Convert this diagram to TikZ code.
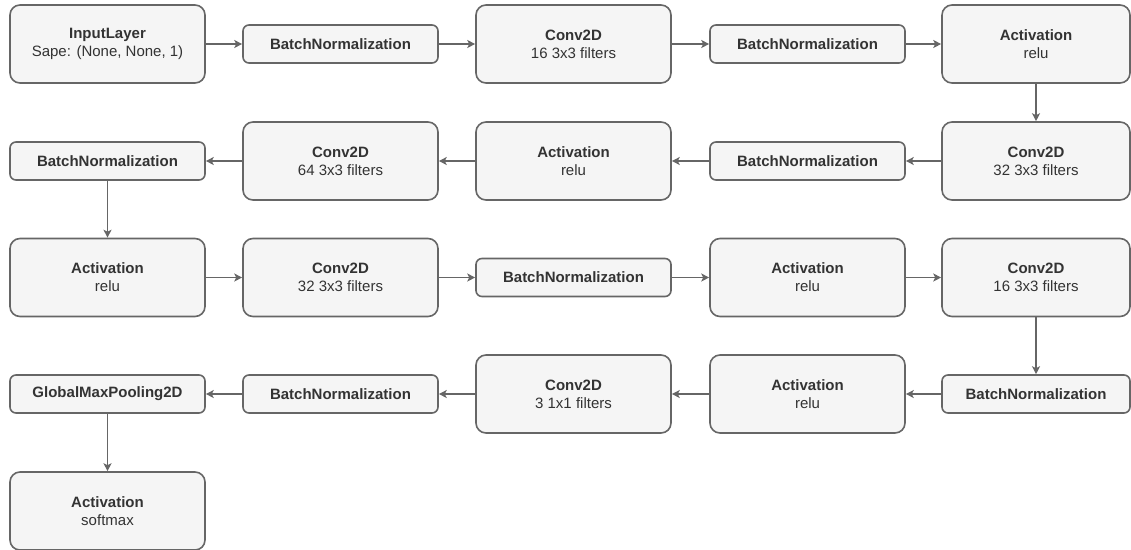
\documentclass[tikz,border=0pt]{standalone}
\usepackage{fontspec}
\setmainfont{Liberation Sans}
\usetikzlibrary{arrows.meta}
\definecolor{boxfill}{HTML}{F5F5F5}
\definecolor{boxline}{HTML}{666666}
\definecolor{txt}{HTML}{333333}
\begin{document}
\begin{tikzpicture}[x=1pt,y=-1pt,
  layer/.style={draw=boxline, fill=boxfill, line width=1.6pt, rounded corners=10pt,
    minimum width=195pt, minimum height=78pt, inner sep=0pt, align=center,
    text=txt, font=\fontsize{15}{18}\selectfont},
  flat/.style={layer, minimum height=38pt, rounded corners=6pt},
  narrow/.style={minimum width=188pt},
  flow/.style={draw=boxline, line width=1.3pt, -{Stealth[length=8pt,width=8pt,inset=2pt]}}]
\useasboundingbox (0,0) rectangle (1131,549);

% row 1
\node[layer] (a1) at (107.5,44) {\textbf{InputLayer}\\Sape: (None, None, 1)};
\node[flat]  (a2) at (340.5,44) {\textbf{BatchNormalization}};
\node[layer] (a3) at (573.5,44) {\textbf{Conv2D}\\16 3x3 filters};
\node[flat]  (a4) at (807.5,44) {\textbf{BatchNormalization}};
\node[layer,narrow] (a5) at (1036,44) {\textbf{Activation}\\relu};

% row 2
\node[layer,narrow] (b5) at (1036,161) {\textbf{Conv2D}\\32 3x3 filters};
\node[flat]  (b4) at (807.5,161) {\textbf{BatchNormalization}};
\node[layer] (b3) at (573.5,161) {\textbf{Activation}\\relu};
\node[layer] (b2) at (340.5,161) {\textbf{Conv2D}\\64 3x3 filters};
\node[flat]  (b1) at (107.5,161) {\textbf{BatchNormalization}};

% row 3
\node[layer] (c1) at (107.5,277.5) {\textbf{Activation}\\relu};
\node[layer] (c2) at (340.5,277.5) {\textbf{Conv2D}\\32 3x3 filters};
\node[flat]  (c3) at (573.5,277.5) {\textbf{BatchNormalization}};
\node[layer] (c4) at (807.5,277.5) {\textbf{Activation}\\relu};
\node[layer,narrow] (c5) at (1036,277.5) {\textbf{Conv2D}\\16 3x3 filters};

% row 4
\node[flat,narrow] (d5) at (1036,394) {\textbf{BatchNormalization}};
\node[layer] (d4) at (807.5,394) {\textbf{Activation}\\relu};
\node[layer] (d3) at (573.5,394) {\textbf{Conv2D}\\3 1x1 filters};
\node[flat]  (d2) at (340.5,394) {\textbf{BatchNormalization}};
\node[flat]  (d1) at (107.5,394) {\textbf{GlobalMaxPooling2D}};

% row 5
\node[layer] (e1) at (107.5,511) {\textbf{Activation}\\softmax};

% connectors
\draw[flow] (a1) -- (a2);
\draw[flow] (a2) -- (a3);
\draw[flow] (a3) -- (a4);
\draw[flow] (a4) -- (a5);
\draw[flow] (a5) -- (b5);
\draw[flow] (b5) -- (b4);
\draw[flow] (b4) -- (b3);
\draw[flow] (b3) -- (b2);
\draw[flow] (b2) -- (b1);
\draw[flow] (b1) -- (c1);
\draw[flow] (c1) -- (c2);
\draw[flow] (c2) -- (c3);
\draw[flow] (c3) -- (c4);
\draw[flow] (c4) -- (c5);
\draw[flow] (c5) -- (d5);
\draw[flow] (d5) -- (d4);
\draw[flow] (d4) -- (d3);
\draw[flow] (d3) -- (d2);
\draw[flow] (d2) -- (d1);
\draw[flow] (d1) -- (e1);
\end{tikzpicture}
\end{document}
